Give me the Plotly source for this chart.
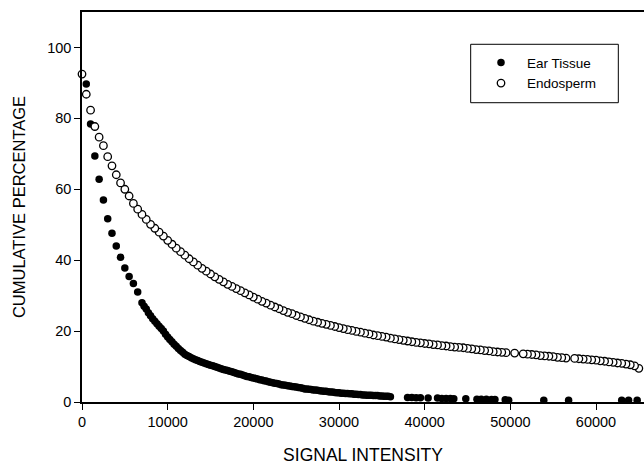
import plotly.graph_objects as go

# ---- data ----
ear_x = [500, 1000, 1500, 2000, 2500, 3000, 3500, 4000, 4500, 5000,
         5500, 6000, 6500,
         7000, 7250, 7500, 7750, 8000, 8250, 8500, 8750, 9000, 9250,
         9500, 9750, 10000, 10250, 10500, 10750, 11000, 11250, 11500, 11750,
         12000, 12250, 12500, 12750, 13000, 13250, 13500, 13750, 14000, 14250,
         14500, 14750, 15000, 15250, 15500, 15750, 16000, 16250, 16500, 16750,
         17000, 17250, 17500, 17750, 18000, 18250, 18500, 18750, 19000, 19250,
         19500, 19750, 20000, 20250, 20500, 20750, 21000, 21250, 21500, 21750,
         22000, 22250, 22500, 22750, 23000, 23250, 23500, 23750, 24000, 24250,
         24500, 24750, 25000, 25250, 25500, 25750, 26000, 26250, 26500, 26750,
         27000, 27250, 27500, 27750, 28000, 28250, 28500, 28750, 29000, 29250,
         29500, 29750, 30000, 30250, 30500, 30750, 31000, 31250, 31500, 31750,
         32000, 32250, 32500, 32750, 33000, 33250, 33500, 33750, 34000, 34250,
         34500, 34750, 35000, 35250, 35500, 35750, 36000,
         38000, 38500, 39000, 39500, 40400, 41500, 42000, 42500, 43000, 43400,
         44800, 46100, 46600, 47200, 47800, 48200, 49400, 49800, 53900, 56800,
         63000, 63800, 64800]
ear_y = [89.7, 78.4, 69.4, 62.8, 57.0, 51.7, 47.6, 44.0, 40.8, 37.8,
         35.4, 33.4, 31.0,
         28.0, 27.0, 26.2, 25.2, 24.3, 23.5, 22.8, 22.1, 21.4, 20.7,
         20.0, 19.1, 18.3, 17.6, 17.0, 16.3, 15.7, 15.1, 14.5, 14.0,
         13.5, 13.1, 12.8, 12.5, 12.2, 11.9, 11.7, 11.4, 11.2, 11.0,
         10.8, 10.6, 10.4, 10.2, 10.0, 9.8, 9.6, 9.4, 9.2, 9.0,
         8.9, 8.7, 8.5, 8.3, 8.1, 7.9, 7.8, 7.6, 7.4, 7.2,
         7.1, 6.9, 6.8, 6.6, 6.5, 6.3, 6.2, 6.0, 5.9, 5.7,
         5.6, 5.4, 5.3, 5.2, 5.1, 4.9, 4.8, 4.7, 4.6, 4.5,
         4.4, 4.3, 4.2, 4.1, 4.0, 3.9, 3.7, 3.7, 3.6, 3.5,
         3.4, 3.4, 3.3, 3.2, 3.1, 3.0, 3.0, 2.9, 2.8, 2.8,
         2.7, 2.6, 2.6, 2.5, 2.5, 2.4, 2.4, 2.3, 2.3, 2.2,
         2.2, 2.1, 2.1, 2.0, 2.0, 1.9, 1.9, 1.9, 1.8, 1.8,
         1.8, 1.7, 1.7, 1.6, 1.6, 1.6, 1.5,
         1.3, 1.3, 1.2, 1.2, 1.1, 1.1, 1.0, 1.0, 1.0, 0.9,
         0.9, 0.8, 0.8, 0.8, 0.7, 0.7, 0.6, 0.5, 0.5, 0.5,
         0.5, 0.5, 0.5]

endo_x = [0, 500, 1000, 1500, 2000, 2500, 3000, 3500, 4000, 4500,
          5000, 5500, 6000, 6500, 7000, 7500, 8000, 8500, 9000, 9500,
          10000, 10500, 11000, 11500, 12000, 12500, 13000, 13500, 14000, 14500,
          15000, 15500, 16000, 16500, 17000, 17500, 18000, 18500, 19000, 19500,
          20000, 20500, 21000, 21500, 22000, 22500, 23000, 23500, 24000, 24500,
          25000, 25500, 26000, 26500, 27000, 27500, 28000, 28500, 29000, 29500,
          30000, 30500, 31000, 31500, 32000, 32500, 33000, 33500, 34000, 34500,
          35000, 35500, 36000, 36500, 37000, 37500, 38000, 38500, 39000, 39500,
          40000, 40500, 41000, 41500, 42000, 42500, 43000, 43500, 44000, 44500,
          45000, 45500, 46000, 46500, 47000, 47500, 48000, 48500, 49000, 49500,
          50500, 51500, 52000, 52500, 53000, 53500, 54000, 54500, 55000, 55500,
          56000, 56500, 57500, 58000, 58500, 59000, 59500, 60000, 60500, 61000,
          61500, 62000, 62500, 63000, 63500, 64000, 64500, 65000]
endo_y = [92.5, 86.8, 82.3, 77.7, 74.7, 72.3, 69.2, 66.6, 64.1, 61.8,
          60.0, 58.1, 56.0, 54.4, 52.9, 51.5, 50.1, 49.0, 47.9, 46.8,
          45.6, 44.5, 43.4, 42.4, 41.4, 40.4, 39.5, 38.6, 37.7, 36.9,
          36.1, 35.3, 34.6, 33.9, 33.2, 32.6, 32.0, 31.4, 30.8, 30.2,
          29.6, 29.0, 28.4, 27.9, 27.3, 26.8, 26.3, 25.8, 25.3, 24.9,
          24.4, 24.0, 23.6, 23.2, 22.8, 22.5, 22.2, 21.9, 21.6, 21.3,
          21.0, 20.7, 20.4, 20.2, 19.9, 19.7, 19.4, 19.2, 18.9, 18.7,
          18.5, 18.3, 18.0, 17.8, 17.6, 17.4, 17.2, 17.0, 16.8, 16.7,
          16.5, 16.4, 16.2, 16.1, 15.9, 15.8, 15.6, 15.5, 15.4, 15.3,
          15.1, 15.0, 14.8, 14.7, 14.5, 14.4, 14.2, 14.1, 14.0, 13.9,
          13.8, 13.6, 13.5, 13.4, 13.3, 13.1, 13.0, 12.9, 12.8, 12.6,
          12.5, 12.4, 12.3, 12.2, 12.1, 12.0, 11.9, 11.8, 11.6, 11.5,
          11.3, 11.2, 11.0, 10.9, 10.7, 10.5, 10.2, 9.5]

x_ticks = [0, 10000, 20000, 30000, 40000, 50000, 60000]
y_ticks = [0, 20, 40, 60, 80, 100]

FONT = "Liberation Sans, Arial, Helvetica, sans-serif"

fig = go.Figure()
fig.add_trace(go.Scatter(
    x=ear_x, y=ear_y, mode="markers", name="Ear Tissue",
    marker=dict(symbol="circle", size=7.5, color="black", line=dict(width=0)),
    cliponaxis=False,
))
fig.add_trace(go.Scatter(
    x=endo_x[::-1], y=endo_y[::-1], mode="markers", name="Endosperm",
    marker=dict(symbol="circle", size=7.5, color="white",
                line=dict(width=1.3, color="black")),
    cliponaxis=False,
))

# legend frame
fig.add_shape(type="rect", xref="paper", yref="paper",
              x0=0.6916, x1=0.9543, y0=0.7674, y1=0.9172,
              line=dict(color="black", width=1), fillcolor="white", layer="below")

fig.update_layout(
    width=644, height=465,
    margin=dict(l=82, r=0, t=12, b=63),
    paper_bgcolor="white", plot_bgcolor="white",
    font=dict(family=FONT, color="black"),
    showlegend=True,
    legend=dict(
        x=0.6993, y=0.9095, xanchor="left", yanchor="top",
        bgcolor="rgba(0,0,0,0)", borderwidth=0,
        font=dict(family=FONT, size=13.5, color="black"),
        itemwidth=42,
    ),
    xaxis=dict(
        range=[0, 65600], tickvals=x_ticks, ticktext=[str(v) for v in x_ticks],
        showgrid=False, zeroline=False,
        showline=True, linecolor="black", linewidth=1.5, mirror=True,
        ticks="outside", ticklen=6, tickwidth=1.3, tickcolor="black",
        tickfont=dict(size=14.5),
        title=dict(text="SIGNAL INTENSITY", font=dict(size=17.5), standoff=22),
    ),
    yaxis=dict(
        range=[0, 110], tickvals=y_ticks, ticktext=[str(v) for v in y_ticks],
        showgrid=False, zeroline=False,
        showline=True, linecolor="black", linewidth=1.5, mirror=False,
        ticks="outside", ticklen=6, tickwidth=1.3, tickcolor="black",
        tickfont=dict(size=14.5),
        title=dict(text="CUMULATIVE PERCENTAGE", font=dict(size=16.5), standoff=17),
    ),
)

fig.write_html("out.html")
